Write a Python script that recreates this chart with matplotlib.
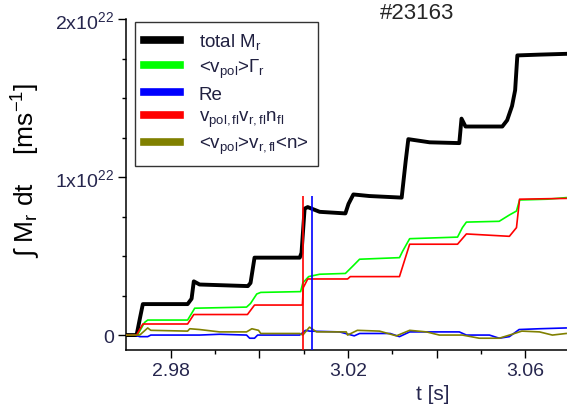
import matplotlib
matplotlib.use("Agg")
import matplotlib.pyplot as plt
import matplotlib.ticker as mticker
from matplotlib import font_manager
import numpy as np

plt.rcParams['font.family'] = ['Liberation Sans', 'DejaVu Sans']
plt.rcParams['mathtext.fontset'] = 'custom'
plt.rcParams['mathtext.rm'] = 'Liberation Sans'
plt.rcParams['mathtext.it'] = 'Liberation Sans'
plt.rcParams['mathtext.bf'] = 'Liberation Sans:bold'

SCALE = 1e22  # values below are in units of 1e22 m s^-1

# total M_r
t_total = [2.9699, 2.9723, 2.9730, 2.9737, 2.9838, 2.9847, 2.9852, 2.9865, 2.9974, 2.9980,
           2.9989, 3.0091, 3.0095, 3.0102, 3.0109, 3.0136, 3.0194, 3.0201, 3.0212, 3.0248,
           3.0321, 3.0330, 3.0336, 3.0384, 3.0451, 3.0456, 3.0465, 3.0485, 3.0548, 3.0559,
           3.0570, 3.0577, 3.0582, 3.0632, 3.0692]
m_total = [0.0, 0.0, 0.10, 0.196, 0.196, 0.23, 0.34, 0.32, 0.31, 0.33,
           0.49, 0.49, 0.52, 0.80, 0.81, 0.78, 0.77, 0.83, 0.89, 0.88,
           0.87, 1.10, 1.24, 1.22, 1.215, 1.37, 1.32, 1.32, 1.32, 1.36,
           1.45, 1.55, 1.77, 1.775, 1.78]

# <v_pol> Gamma_r
t_green = [2.9699, 2.9725, 2.9741, 2.9748, 2.9838, 2.9852, 2.9854, 2.9971, 2.9980, 2.9994,
           3.0003, 3.0093, 3.0098, 3.0111, 3.0136, 3.0194, 3.0212, 3.0226, 3.0316, 3.0323,
           3.0339, 3.0447, 3.0458, 3.0467, 3.0541, 3.0564, 3.0580, 3.0587, 3.0650, 3.0692]
m_green = [0.0, 0.0, 0.08, 0.095, 0.095, 0.16, 0.17, 0.177, 0.20, 0.26,
           0.27, 0.275, 0.33, 0.37, 0.385, 0.39, 0.44, 0.48, 0.49, 0.53,
           0.61, 0.62, 0.68, 0.715, 0.72, 0.76, 0.785, 0.855, 0.86, 0.87]

# Re
t_blue = [2.9699, 2.9719, 2.9730, 2.9748, 2.9755, 2.9865, 2.9910, 2.9971, 2.9978, 2.9989,
          2.9996, 3.0091, 3.0104, 3.0113, 3.0181, 3.0214, 3.0226, 3.0295, 3.0316, 3.0339,
          3.0451, 3.0467, 3.0519, 3.0541, 3.0564, 3.0586, 3.0632, 3.0692]
m_blue = [0.0, 0.0, -0.01, -0.01, 0.0, 0.0, 0.005, 0.0, -0.02, -0.02,
          0.0, 0.0, 0.03, 0.025, 0.02, -0.005, 0.01, 0.01, -0.01, 0.02,
          0.02, 0.0, 0.0, -0.02, -0.01, 0.035, 0.04, 0.045]

# v_pol,fl v_r,fl n_fl
t_red = [2.9699, 2.9723, 2.9737, 2.9838, 2.9852, 2.9973, 2.9989, 3.0097, 3.0099, 3.0109,
         3.0199, 3.0205, 3.0226, 3.0316, 3.0339, 3.0447, 3.0467, 3.0564, 3.0580, 3.0587,
         3.0692]
m_red = [0.0, 0.0, 0.07, 0.07, 0.13, 0.13, 0.19, 0.19, 0.30, 0.355,
         0.355, 0.37, 0.37, 0.37, 0.575, 0.575, 0.64, 0.625, 0.68, 0.86,
         0.865]

# <v_pol> v_r,fl <n>
t_olive = [2.9699, 2.9730, 2.9748, 2.9755, 2.9838, 2.9843, 2.9865, 2.9910, 2.9971, 2.9983,
           2.9998, 3.0003, 3.0091, 3.0098, 3.0113, 3.0129, 3.0196, 3.0199, 3.0221, 3.0271,
           3.0309, 3.0339, 3.0377, 3.0406, 3.0458, 3.0496, 3.0541, 3.0570, 3.0592, 3.0632,
           3.0661, 3.0692]
m_olive = [0.0, 0.0, 0.045, 0.03, 0.025, 0.04, 0.035, 0.02, 0.02, 0.04,
           0.03, 0.01, 0.01, 0.0, 0.05, 0.02, 0.02, 0.0, 0.03, 0.025,
           -0.005, 0.03, 0.02, 0.0, 0.0, -0.02, -0.02, 0.005, 0.025, 0.02,
           0.0, 0.01]

# vertical time markers
marker_t = [3.0098, 3.0118]
marker_colors = ['#ff0000', '#0000ff']
marker_top = 0.88

series = [
    (t_total, m_total, 'black', 2.8, 'total M$_r$'),
    (t_green, m_green, '#00ff00', 1.2, '<v$_{pol}$>Γ$_r$'),
    (t_blue, m_blue, '#0000ff', 1.2, 'Re'),
    (t_red, m_red, '#ff0000', 1.2, 'v$_{pol,fl}$v$_{r,fl}$n$_{fl}$'),
    (t_olive, m_olive, '#808000', 1.2, '<v$_{pol}$>v$_{r,fl}$<n>'),
]

# narrow face for the y label if available
installed = {f.name for f in font_manager.fontManager.ttflist}
ylab_family = ['Liberation Sans Narrow', 'Liberation Sans', 'DejaVu Sans']
ylab_family = [f for f in ylab_family if f in installed]

fig = plt.figure(figsize=(5.67, 4.14), dpi=100)
ax = fig.add_axes([0.2222, 0.152, 0.7778, 0.7995])

ymin, ymax = -0.095 * SCALE, 2.0 * SCALE
for t, m, c, lw, lab in series:
    ax.plot(t, np.array(m) * SCALE, color=c, lw=lw, label=lab, zorder=3)

ax.vlines(marker_t, ymin, marker_top * SCALE, colors=marker_colors, lw=1.2, zorder=4)

ax.set_xlim(2.9699, 3.0694)
ax.set_ylim(ymin, ymax)

for s in ['top', 'right']:
    ax.spines[s].set_visible(False)
for s in ['left', 'bottom']:
    ax.spines[s].set_linewidth(1.1)

ax.xaxis.set_major_locator(mticker.FixedLocator([2.98, 3.00, 3.02, 3.04, 3.06]))
ax.xaxis.set_major_formatter(mticker.FixedFormatter(['2.98', '', '3.02', '', '3.06']))
ax.xaxis.set_minor_locator(mticker.FixedLocator([2.99, 3.01, 3.03, 3.05]))
ax.yaxis.set_major_locator(mticker.FixedLocator([0, 1 * SCALE, 2 * SCALE]))
ax.yaxis.set_major_formatter(mticker.FixedFormatter(['0', '1x10$^{22}$', '2x10$^{22}$']))
ax.yaxis.set_minor_locator(mticker.FixedLocator(np.array([0.25, 0.5, 0.75, 1.25, 1.5, 1.75]) * SCALE))

tick_col = '#26264e'
ax.tick_params(which='major', direction='out', length=5.5, width=1.0, labelsize=14,
               labelcolor=tick_col, pad=3)
ax.tick_params(which='minor', direction='out', length=3, width=1.0)

ax.set_xlabel('t [s]', fontsize=15, color=tick_col)
ax.xaxis.set_label_coords(0.696, -0.103)
ax.set_ylabel('∫ M$_r$ dt    [ms$^{-1}$]', fontsize=19, family=ylab_family)
ax.yaxis.set_label_coords(-0.190, 0.547)

fig.text(0.735, 0.968, '#23163', fontsize=16, ha='center', va='center', color='#262626')

leg = ax.legend(loc='upper left', bbox_to_anchor=(0.02, 0.992), borderaxespad=0,
                fontsize=13.5, frameon=True, fancybox=False, edgecolor='black',
                handlelength=1.9, handletextpad=1.0, labelspacing=0.3,
                borderpad=0.5)
leg.get_frame().set_linewidth(1.0)
for h in leg.legend_handles:
    h.set_linewidth(5.5)
for txt in leg.get_texts():
    txt.set_color('#202040')

fig.savefig('out.png', dpi=100)
